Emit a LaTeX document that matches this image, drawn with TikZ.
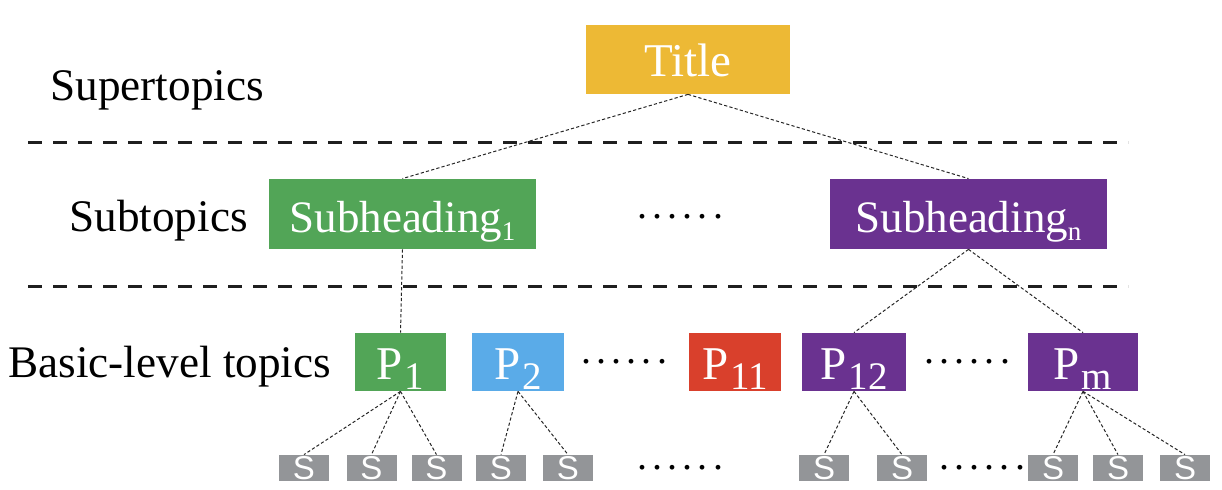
\documentclass[tikz,border=0pt]{standalone}
\usepackage{fontspec}
\setmainfont{Liberation Serif}
\newfontfamily\sansS{Liberation Sans}
\definecolor{cTitle}{HTML}{EDB935}
\definecolor{cGreen}{HTML}{52A557}
\definecolor{cPurple}{HTML}{6A3290}
\definecolor{cBlue}{HTML}{5AABE8}
\definecolor{cRed}{HTML}{D9402C}
\definecolor{cGray}{HTML}{939598}
\newcommand{\subsmall}[1]{{\fontsize{13.5}{13.5}\selectfont\raisebox{-4pt}{#1}}}
\newcommand{\subbig}[1]{\kern1pt{\fontsize{19.5}{19.5}\selectfont\raisebox{-5pt}{#1}}}
\newcommand{\sixdots}{.\kern2.6pt.\kern2.6pt.\kern2.6pt.\kern2.6pt.\kern2.6pt.}
\begin{document}
\begin{tikzpicture}[x=0.5pt,y=-0.5pt,
  box/.style={rectangle, inner sep=0pt, text=white, anchor=center},
  titlebox/.style={box, fill=cTitle, minimum width=102pt, minimum height=34.5pt, font=\fontsize{23.5}{23.5}\selectfont, text height=17.5pt, text depth=0pt},
  subbox/.style={box, minimum height=35pt, font=\fontsize{22.5}{22.5}\selectfont, text height=19pt, text depth=0pt},
  pbox/.style={box, minimum height=29pt, font=\fontsize{23.5}{23.5}\selectfont, text height=18pt, text depth=0pt},
  sbox/.style={box, fill=cGray, minimum width=25pt, minimum height=13pt, font=\sansS\fontsize{16.5}{16.5}\selectfont, text height=12pt, text depth=0pt},
  lbl/.style={anchor=base west, inner sep=0pt, font=\fontsize{22.6}{22.6}\selectfont},
  dotsrow/.style={anchor=base, inner sep=0pt, font=\fontsize{20}{20}\selectfont},
  sep/.style={line width=1.5pt, draw=black!88, dash pattern=on 7pt off 5.5pt},
  link/.style={line width=0.5pt, draw=black!85, dash pattern=on 1.6pt off 1.1pt}
]
\useasboundingbox (0,0) rectangle (1222,490);

% level labels
\node[lbl] (lsuper) at (50,101) {Supertopics};
\node[lbl] (lsub) at (69,232) {Subtopics};
\node[lbl] (lbasic) at (8,378) {Basic-level topics};

% separators
\draw[sep] (28,143) -- (1128,143);
\draw[sep] (28,287) -- (1128,287);

% title
\node[titlebox] (title) at (688,59.5) {Title};

% subheadings
\node[subbox, fill=cGreen, minimum width=133.5pt] (sub1) at (402.5,214) {Subheading\subsmall{1}};
\node[subbox, fill=cPurple, minimum width=138.5pt] (subn) at (968.5,214) {Subheading\subsmall{n}};
\node[dotsrow] (d1) at (680,219) {\sixdots};

% P boxes
\node[pbox, fill=cGreen, minimum width=45.5pt] (p1) at (400.5,362) {P\subbig{1}};
\node[pbox, fill=cBlue, minimum width=46pt] (p2) at (518,362) {P\subbig{2}};
\node[dotsrow] (d2) at (624,364) {\sixdots};
\node[pbox, fill=cRed, minimum width=46pt] (p11) at (735,362) {P\subbig{11}};
\node[pbox, fill=cPurple, minimum width=52pt] (p12) at (854,362) {P\subbig{12}};
\node[dotsrow] (d3) at (967,364) {\sixdots};
\node[pbox, fill=cPurple, minimum width=55pt] (pm) at (1083,362) {P\subbig{m}};

% S boxes
\node[sbox] (s1) at (304,468) {S};
\node[sbox] (s2) at (371.5,468) {S};
\node[sbox] (s3) at (436.5,468) {S};
\node[sbox] (s4) at (501,468) {S};
\node[sbox] (s5) at (568,468) {S};
\node[dotsrow] (d4) at (680,470) {\sixdots};
\node[sbox] (s6) at (824,468) {S};
\node[sbox] (s7) at (902,468) {S};
\node[dotsrow] (d5) at (982,470) {\sixdots};
\node[sbox] (s8) at (1053,468) {S};
\node[sbox] (s9) at (1118,468) {S};
\node[sbox] (s10) at (1185,468) {S};

% connectors
\draw[link] (title.south) -- (sub1.north);
\draw[link] (title.south) -- (subn.north);
\draw[link] (sub1.south) -- (p1.north);
\draw[link] (subn.south) -- (p12.north);
\draw[link] (subn.south) -- (pm.north);
\draw[link] (p1.south) -- (s1.north);
\draw[link] (p1.south) -- (s2.north);
\draw[link] (p1.south) -- (s3.north);
\draw[link] (p2.south) -- (s4.north);
\draw[link] (p2.south) -- (s5.north);
\draw[link] (p12.south) -- (s6.north);
\draw[link] (p12.south) -- (s7.north);
\draw[link] (pm.south) -- (s8.north);
\draw[link] (pm.south) -- (s9.north);
\draw[link] (pm.south) -- (s10.north);
\end{tikzpicture}
\end{document}
